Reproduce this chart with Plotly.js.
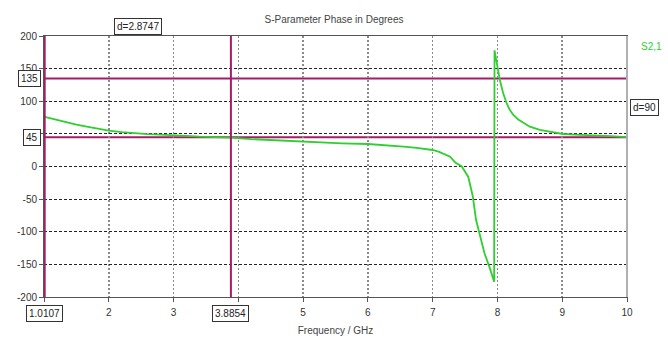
<!DOCTYPE html>
<html>
<head>
<meta charset="utf-8">
<script src="https://cdn.plot.ly/plotly-3.0.1.min.js"></script>
<style>html,body{margin:0;padding:0;background:#fff;}#chart{width:668px;height:338px;}</style>
</head>
<body>
<div id="chart"></div>
<script>
// Data
var freqGHz = [1.0107, 1.2, 1.35, 1.5, 1.66, 1.8, 2.0, 2.2, 2.4, 2.6, 2.8, 3.0, 3.2, 3.4, 3.6, 3.88, 4.2, 4.6, 5.0, 5.3, 5.6, 6.0, 6.25, 6.45, 6.6, 6.75, 6.9, 7.0, 7.1, 7.16, 7.22, 7.27, 7.35, 7.45, 7.55, 7.62, 7.67, 7.72, 7.8, 7.88, 7.949, 7.955, 7.986, 8.037, 8.088, 8.14, 8.19, 8.242, 8.32, 8.397, 8.5, 8.654, 8.8, 8.912, 9.01, 9.2, 9.48, 9.75, 10.0];
var phaseS21 = [76, 71, 67, 64, 61, 58.5, 55, 52.7, 51, 49.7, 49, 48.3, 47, 45.7, 45.2, 44.2, 42, 40, 38, 36.8, 35.5, 34.5, 33, 31.4, 30, 28.4, 26.8, 25.3, 22.5, 20.2, 17.5, 15, 6, 0, -16, -46, -82, -101, -133, -155, -176.5, 178, 158, 132.6, 112.6, 97.3, 87, 79.3, 72, 66.7, 61, 56, 53.5, 51.9, 49.8, 49, 48, 46.5, 45];
var seriesName = 'S2,1';
var markerX = [1.0107, 3.8854];   // vertical markers (GHz)
var markerY = [135, 45];          // horizontal markers (deg)
var xTicks = [1, 2, 3, 4, 5, 6, 7, 8, 9, 10];
var yTicks = [-200, -150, -100, -50, 0, 50, 100, 150, 200];
var xTicksHidden = [1, 4];        // covered by marker boxes in the reference
var yTicksHidden = [50];

var magenta = '#a51c68';
var green = '#2fcf2f';
var font = 'Liberation Sans, Arial, sans-serif';

var dX = markerX[1] - markerX[0];
var dY = markerY[0] - markerY[1];

var shapes = [];
markerX.forEach(function (v) {
  shapes.push({type: 'line', xref: 'x', yref: 'paper', x0: v, x1: v, y0: 0, y1: 1,
    line: {color: magenta, width: 2}, layer: 'above'});
});
markerY.forEach(function (v) {
  shapes.push({type: 'line', xref: 'paper', yref: 'y', x0: 0, x1: 1, y0: v, y1: v,
    line: {color: magenta, width: 2}, layer: 'below'});
});
// right frame line (light grey)
shapes.push({type: 'line', xref: 'paper', yref: 'paper', x0: 1, x1: 1, y0: 0, y1: 1,
  line: {color: '#b0b0b0', width: 2}});

var boxStyle = {bgcolor: '#ffffff', bordercolor: '#333333', borderwidth: 1, borderpad: 2,
  font: {family: font, size: 10, color: '#222'}, showarrow: false};
function box(o) { return Object.assign({}, boxStyle, o); }

var annotations = [];
markerY.forEach(function (v) {
  annotations.push(box({text: String(v), xref: 'paper', x: 0, xanchor: 'right', xshift: -3,
    yref: 'y', y: v, yanchor: 'middle'}));
});
markerX.forEach(function (v) {
  annotations.push(box({text: v.toFixed(4), xref: 'x', x: v, xanchor: 'center',
    yref: 'paper', y: 0, yanchor: 'middle', yshift: -16}));
});
annotations.push(box({text: 'd=' + dX.toFixed(4), xref: 'x', x: (markerX[0] + markerX[1]) / 2,
  xanchor: 'center', yref: 'paper', y: 1, yanchor: 'middle', yshift: 10}));
annotations.push(box({text: 'd=' + dY, xref: 'paper', x: 1, xanchor: 'left', xshift: 3,
  yref: 'y', y: (markerY[0] + markerY[1]) / 2, yanchor: 'middle'}));
annotations.push({text: seriesName, xref: 'paper', x: 1, xanchor: 'left', xshift: 12,
  yref: 'paper', y: 1, yanchor: 'middle', yshift: -10, showarrow: false,
  font: {family: font, size: 10, color: green}});

var trace = {x: freqGHz, y: phaseS21, type: 'scatter', mode: 'lines', name: seriesName,
  line: {color: green, width: 1.8}};

var layout = {
  width: 668, height: 338,
  margin: {l: 44, r: 41, t: 36, b: 41},
  paper_bgcolor: '#ffffff', plot_bgcolor: '#ffffff',
  showlegend: false,
  font: {family: font, size: 10, color: '#333'},
  title: {text: 'S-Parameter Phase in Degrees', font: {family: font, size: 10, color: '#444'},
    x: 0.5, xanchor: 'center', y: 1 - 19 / 338, yanchor: 'middle', yref: 'container'},
  xaxis: {
    range: [1, 10], tickvals: xTicks,
    ticktext: xTicks.map(function (t) { return xTicksHidden.indexOf(t) >= 0 ? '' : String(t); }),
    showgrid: true, gridcolor: '#8a8a8a', gridwidth: 1.5, griddash: '2px,2px',
    showline: true, linecolor: '#555', linewidth: 1, mirror: true,
    ticks: 'outside', ticklen: 4, tickcolor: '#555', zeroline: false,
    ticklabelstandoff: 2,
    tickfont: {family: font, size: 10, color: '#333'},
    title: {text: 'Frequency / GHz', font: {family: font, size: 10, color: '#444'}, standoff: 9}
  },
  yaxis: {
    range: [-200, 200], tickvals: yTicks,
    ticktext: yTicks.map(function (t) { return yTicksHidden.indexOf(t) >= 0 ? '' : String(t); }),
    showgrid: true, gridcolor: '#222', gridwidth: 1, griddash: '3px,2px',
    showline: true, linecolor: '#555', linewidth: 1, mirror: true,
    ticks: 'outside', ticklen: 4, tickcolor: '#555', zeroline: false,
    tickfont: {family: font, size: 10, color: '#333'}
  },
  shapes: shapes,
  annotations: annotations
};

Plotly.newPlot('chart', [trace], layout, {displayModeBar: false, staticPlot: true});
</script>
</body>
</html>
